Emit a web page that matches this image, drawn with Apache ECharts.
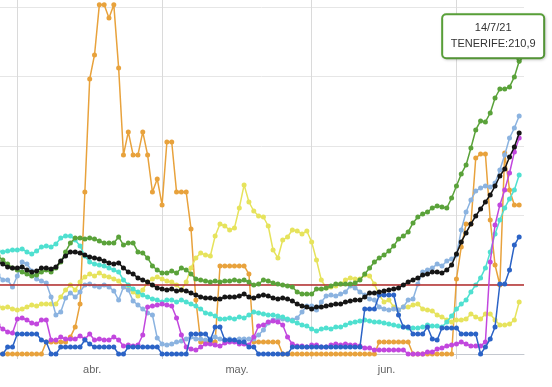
<!DOCTYPE html>
<html><head><meta charset="utf-8">
<script src="https://cdn.jsdelivr.net/npm/echarts@6/dist/echarts.min.js"></script>
<style>html,body{margin:0;padding:0;background:#fff}#c{width:552px;height:387px}</style>
</head><body><div id="c"></div>
<script>
// daily categories: 28/3/21 .. 15/7/21 (last day has no data)
const categories = [];
for (let i = 0; i < 110; i++) {
  const d = new Date(2021, 2, 28 + i);
  categories.push(d.getDate() + '/' + (d.getMonth() + 1) + '/21');
}
const monthLabels = {4: 'abr.', 5: 'may.', 6: 'jun.', 7: 'jul.'};
const threshold = 50;

const tenerife = [70.6,67.7,64.8,62.0,60.5,59.1,57.6,56.2,56.9,59.1,
60.5,59.1,62.0,66.3,73.5,80.0,83.6,83.6,82.9,83.6,
82.9,81.4,80.0,80.0,80.0,84.3,78.5,80.0,80.0,73.5,
72.8,69.2,63.4,60.5,58.4,58.4,59.8,58.4,62.0,60.5,
57.6,54.0,53.3,52.6,51.9,52.6,51.9,52.6,52.6,53.3,
52.6,53.3,51.9,49.7,50.4,53.3,52.6,51.2,50.4,49.7,
49.0,48.3,44.7,43.2,43.2,43.2,46.8,46.8,47.6,49.0,
50.4,50.4,50.4,50.4,51.2,53.3,57.6,62.0,66.3,69.2,
71.3,74.2,77.8,82.9,85.0,87.9,94.4,98.7,100.9,102.3,
105.2,106.6,105.9,105.2,112.4,121.0,129.7,136.2,148.4,161.4,
167.9,167.2,173.6,184.4,190.9,190.9,192.4,199.6,210.9];

const canarias = [66.3,64.8,62.7,62.0,62.0,62.7,60.5,59.1,59.8,62.0,
62.0,61.2,62.7,67.0,70.6,73.5,73.5,72.8,71.3,69.9,
69.2,68.4,67.0,65.6,64.8,65.6,62.0,59.1,57.6,54.8,
53.3,51.9,49.7,47.6,46.8,46.1,46.8,45.4,46.1,45.4,
44.0,42.5,41.1,40.3,40.3,39.6,39.6,41.1,41.1,41.1,
41.8,43.2,41.1,40.3,41.8,42.5,41.8,40.3,39.6,40.3,
39.6,38.2,36.0,34.6,33.9,32.4,33.9,33.9,34.6,35.3,
36.0,36.0,37.5,38.2,38.9,38.9,41.1,44.0,44.0,44.7,
45.4,46.1,46.8,47.6,49.7,51.9,53.3,54.8,56.9,57.6,
59.1,59.1,58.4,60.5,64.1,72.1,80.7,87.2,93.7,99.4,
104.5,109.5,114.6,121.0,128.2,133.3,141.9,149.1,159.2];

const lanzarote = [74.2,73.5,74.2,74.9,74.9,75.7,73.5,72.1,74.2,77.1,
77.8,77.1,79.3,83.6,85.0,85.0,82.1,77.8,70.6,66.3,
64.8,64.1,63.4,62.0,60.5,59.1,53.3,49.7,46.8,44.7,
42.5,41.1,39.6,38.9,37.5,38.9,38.9,37.5,38.9,37.5,
36.0,34.6,32.4,29.5,28.8,27.4,25.2,25.2,25.9,25.2,
26.7,25.9,28.1,30.3,29.5,28.8,28.1,28.1,27.4,26.7,
25.2,23.8,22.3,20.9,20.2,18.0,16.6,18.0,18.7,18.0,
19.5,19.5,20.9,22.3,23.1,23.8,24.5,23.8,23.1,23.1,
22.3,21.6,20.9,20.2,19.5,18.7,18.7,18.7,19.5,20.9,
20.2,20.2,19.5,23.1,27.4,32.4,36.0,38.9,44.7,49.7,
54.8,62.0,73.5,86.5,96.5,105.2,111.7,118.2,129.0];

const granCanaria = [56.9,53.3,53.3,48.3,56.2,66.3,64.8,59.8,54.0,52.6,
51.2,41.1,28.1,30.3,40.3,44.0,41.1,44.7,49.7,50.4,
49.0,48.3,49.7,48.3,45.4,38.9,48.3,46.1,38.2,35.3,
32.4,29.5,28.1,11.5,7.2,6.5,7.2,8.6,9.4,10.8,
12.2,10.8,10.8,10.1,10.8,12.2,10.8,10.1,10.8,10.1,
10.8,10.8,10.8,10.8,13.7,17.3,22.3,24.5,25.2,25.2,
24.5,24.5,25.9,30.3,34.6,34.6,31.7,37.5,41.8,42.5,
41.8,43.2,44.7,49.0,47.6,44.7,42.5,39.6,38.9,33.9,
32.4,31.7,32.4,31.7,33.9,38.9,39.6,50.4,59.1,60.5,
62.0,64.8,63.4,67.0,68.4,71.3,89.3,102.3,111.0,117.4,
119.6,121.0,120.3,123.2,132.6,143.4,155.6,162.8,171.5];

const laPalma = [34.6,33.1,33.9,32.4,31.7,32.4,33.9,35.3,34.6,36.0,
36.0,36.0,36.0,41.1,46.1,49.7,46.1,51.9,55.5,57.6,
56.2,58.4,56.2,55.5,54.0,52.6,48.3,46.8,44.7,41.8,
46.1,51.9,54.0,55.5,54.0,52.6,51.9,49.7,46.1,51.9,
62.0,69.2,72.8,71.3,70.6,85.0,93.7,92.2,89.3,90.8,
105.2,121.8,109.5,103.0,99.4,98.7,92.2,74.9,69.2,82.1,
84.3,89.3,88.6,86.5,88.6,80.7,67.7,53.3,47.6,48.3,
49.0,50.4,53.3,54.8,54.0,54.0,56.9,56.2,50.4,42.5,
37.5,38.9,33.9,31.7,33.9,33.9,35.3,36.0,32.4,31.7,
31.0,28.1,26.7,24.5,23.1,24.5,24.5,25.2,28.8,26.7,
25.2,28.8,28.8,24.5,20.9,20.9,21.6,24.5,37.5];

const laGomera = [0,0,0,0,0,0,0,0,0,0,
8.6,8.6,8.6,8.6,8.6,12.2,19.5,36.0,116.7,198.1,
215.4,251.5,251.5,242.1,251.5,206.1,143.4,160.0,143.4,143.4,
160.0,143.4,116.7,126.1,107.4,152.7,152.7,116.7,116.7,116.7,
90.1,38.9,8.6,8.6,8.6,8.6,63.4,63.4,63.4,63.4,
63.4,63.4,57.6,8.6,8.6,8.6,8.6,8.6,8.6,0,
0,0,0,0,0,0,0,0,0,0,
0,0,0,0,0,0,0,0,0,8.6,
8.6,8.6,8.6,8.6,8.6,8.6,0,0,0,0,
0,0,0,0,0,54.0,77.1,93.7,93.7,141.2,
144.1,144.1,96.5,64.1,49.7,144.8,118.2,107.4,107.4];

const fuerteventura = [20.9,18.0,15.9,15.1,25.2,25.9,24.5,22.3,21.6,24.5,
24.5,10.1,10.1,12.2,10.8,10.8,10.8,13.0,10.8,14.4,
10.1,10.8,10.1,10.1,12.2,10.1,5.8,6.5,5.8,6.5,
13.7,33.9,34.6,35.3,36.0,35.3,34.6,25.9,13.7,5.0,
3.6,2.9,5.0,7.2,7.2,6.5,5.8,7.9,8.6,8.6,
7.2,7.2,6.5,12.2,20.2,20.9,23.1,23.8,23.1,20.9,
12.2,7.2,5.8,5.8,5.0,6.5,6.5,5.0,5.0,6.5,
7.2,6.5,7.2,6.5,6.5,5.8,4.3,4.3,2.9,2.9,
2.9,2.9,2.9,2.9,2.9,0,0,0,0,1.4,
1.4,3.6,4.3,5.8,6.5,7.2,8.6,7.2,5.8,5.8,
5.8,8.6,66.3,92.9,107.4,118.2,130.4,145.5,155.6];

const elHierro = [0,0,5.0,5.0,14.4,14.4,14.4,14.4,14.4,10.1,
8.6,0,0,5.0,5.0,5.0,5.0,5.0,10.1,7.2,
5.0,5.0,5.0,5.0,5.0,0,0,5.0,5.0,5.0,
5.0,5.0,5.0,5.0,0,0,0,0,0,0,
14.4,14.4,14.4,14.4,10.1,19.5,19.5,10.1,10.1,10.1,
8.6,8.6,5.0,5.0,0,0,0,0,0,0,
0,5.0,5.0,5.0,5.0,5.0,5.0,5.0,5.0,5.0,
5.0,5.0,5.0,5.0,5.0,5.0,32.4,32.4,32.4,42.5,
42.5,42.5,42.5,28.1,19.5,19.5,14.4,14.4,14.4,19.5,
10.8,10.1,18.7,18.7,18.7,18.7,14.4,14.4,14.4,14.4,
0,5.0,10.8,19.5,50.4,50.4,60.5,78.5,84.3];

const C = {
  tenerife: '#5aa23a', canarias: '#151515', lanzarote: '#4fe0d0', granCanaria: '#8bb3e0',
  laPalma: '#e6e35c', laGomera: '#e8a23c', fuerteventura: '#c247de', elHierro: '#2b63c6',
  red: '#b22a2a'
};

function day(v) { return +String(v).split('/')[0]; }
function month(v) { return +String(v).split('/')[1]; }

function line(name, data, color, z, size) {
  return {
    name, type: 'line', data, z,
    symbol: 'circle', symbolSize: size || 5, showAllSymbol: true,
    lineStyle: {color, width: 1.5}, itemStyle: {color},
    emphasis: {disabled: true}, animation: false, silent: true
  };
}

const lastIdx = tenerife.length - 1;
const lastVal = tenerife[lastIdx];
const tipText = categories[lastIdx] + '\n' + 'TENERIFE:' + lastVal.toFixed(1).replace('.', ',');

const ten = line('TENERIFE', tenerife, C.tenerife, 8);
ten.markPoint = {
  silent: true, animation: false, z: 20,
  data: [
    {coord: [categories[lastIdx], lastVal], symbol: 'triangle', symbolSize: [12, 9], symbolRotate: 180,
     symbolOffset: [0, -4], itemStyle: {color: '#fff', borderColor: C.tenerife, borderWidth: 2},
     label: {show: false}},
    {coord: [categories[lastIdx], lastVal], symbol: 'rect', symbolSize: 0,
     itemStyle: {color: 'rgba(0,0,0,0)'},
     label: {show: true, position: 'inside', offset: [-26, -25], formatter: tipText,
       color: '#333', fontSize: 11, fontFamily: 'Liberation Sans, Arial, sans-serif', lineHeight: 16,
       width: 84, align: 'center', padding: [4, 8, 6, 8],
       backgroundColor: '#fff', borderColor: C.tenerife, borderWidth: 2, borderRadius: 3,
       shadowColor: 'rgba(0,0,0,0.18)', shadowBlur: 3, shadowOffsetX: 1, shadowOffsetY: 1}}
  ]
};

const can = line('CANARIAS', canarias, C.canarias, 9, 5);
can.markLine = {
  silent: true, symbol: 'none', animation: false, label: {show: false},
  lineStyle: {color: C.red, width: 1.5, type: 'solid'},
  emphasis: {disabled: true},
  data: [{yAxis: threshold}]
};

const option = {
  animation: false,
  backgroundColor: '#fff',
  grid: {left: -2, right: 28, top: 0, bottom: 33, containLabel: false, outerBoundsMode: 'none'},
  xAxis: {
    type: 'category', data: categories, boundaryGap: false,
    axisLine: {show: true, lineStyle: {color: '#c4c8cf', width: 1}},
    axisTick: {show: true, length: 5, interval: (i, v) => day(v) === 1, lineStyle: {color: '#cfcfcf'}},
    splitLine: {show: true, interval: (i, v) => day(v) === 1, lineStyle: {color: '#dadada', width: 1}},
    axisLabel: {show: true, interval: (i, v) => day(v) === 16, formatter: v => monthLabels[month(v)] || '',
      color: '#666', fontSize: 11, fontFamily: 'Liberation Sans, Arial, sans-serif', margin: 10,
      padding: [0, 0, 0, 5]}
  },
  yAxis: {
    type: 'value', min: 0, max: 255, interval: 50,
    axisLine: {show: false}, axisTick: {show: false}, axisLabel: {show: false},
    splitLine: {show: true, showMaxLine: false, lineStyle: {color: '#e6e6e6', width: 1}}
  },
  series: [
    line('LA GOMERA', laGomera, C.laGomera, 1),
    line('LA PALMA', laPalma, C.laPalma, 2),
    line('GRAN CANARIA', granCanaria, C.granCanaria, 3),
    line('LANZAROTE', lanzarote, C.lanzarote, 4),
    line('FUERTEVENTURA', fuerteventura, C.fuerteventura, 5),
    line('EL HIERRO', elHierro, C.elHierro, 6),
    ten,
    can
  ]
};

const chart = echarts.init(document.getElementById('c'), null, {renderer: 'canvas'});
chart.setOption(option);
</script>
</body></html>
